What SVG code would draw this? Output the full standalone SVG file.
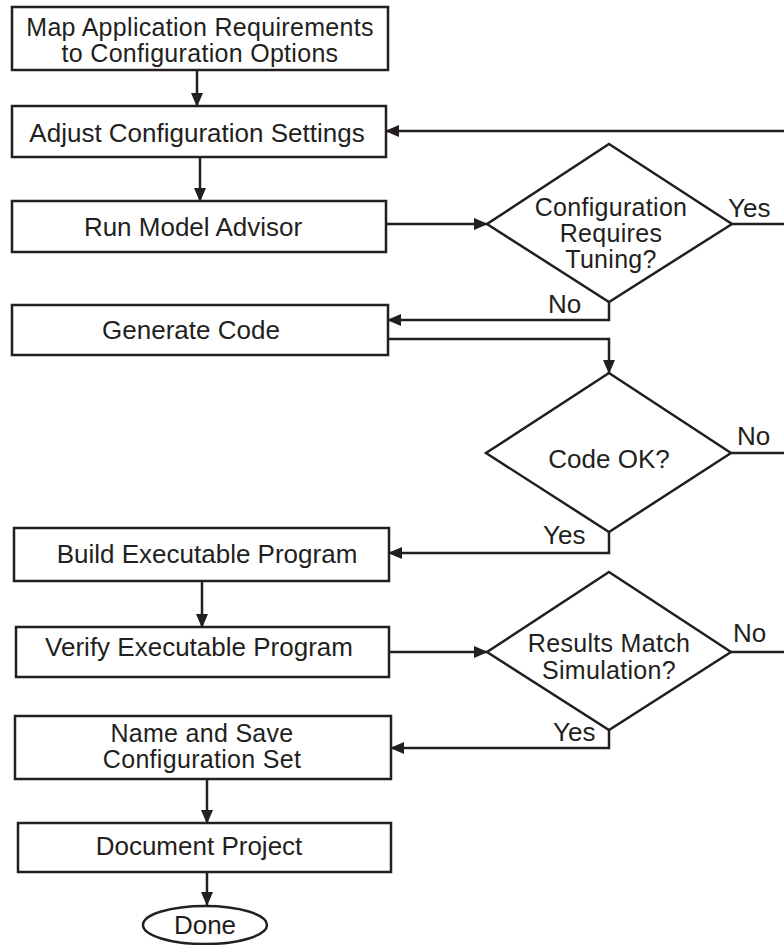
<svg xmlns="http://www.w3.org/2000/svg" width="784" height="945" viewBox="0 0 784 945">
<style>
.box{fill:#fff;stroke:#231f20;stroke-width:2.5}
.t{font-family:"Liberation Sans",Arial,sans-serif;font-size:26px;fill:#231f20;text-anchor:middle}
.t2{font-family:"Liberation Sans",Arial,sans-serif;font-size:25px;letter-spacing:0.3px;fill:#231f20;text-anchor:middle}
.l{font-family:"Liberation Sans",Arial,sans-serif;font-size:26px;fill:#231f20}
.c{fill:none;stroke:#231f20;stroke-width:2.5}
</style>
<defs>
<marker id="ah" markerUnits="userSpaceOnUse" markerWidth="14" markerHeight="14" viewBox="0 0 14 14" refX="13" refY="7" orient="auto">
<path d="M0,1 L14,7 L0,13 Z" fill="#231f20"/>
</marker>
</defs>
<rect width="784" height="945" fill="#fff"/>
<g id="connectors">
<path class="c" d="M197,70 V106" marker-end="url(#ah)"/>
<path class="c" d="M200,157 V201" marker-end="url(#ah)"/>
<path class="c" d="M386,224 H487" marker-end="url(#ah)"/>
<path class="c" d="M732,224 H784"/>
<path class="c" d="M784,131 H386" marker-end="url(#ah)"/>
<path class="c" d="M609,302 V320 H388" marker-end="url(#ah)"/>
<path class="c" d="M388,339 H609 V373" marker-end="url(#ah)"/>
<path class="c" d="M731,453 H784"/>
<path class="c" d="M609,532 V553 H389" marker-end="url(#ah)"/>
<path class="c" d="M202,581 V627" marker-end="url(#ah)"/>
<path class="c" d="M389,652 H487" marker-end="url(#ah)"/>
<path class="c" d="M731,652 H784"/>
<path class="c" d="M609,730 V748 H391" marker-end="url(#ah)"/>
<path class="c" d="M207,779 V823" marker-end="url(#ah)"/>
<path class="c" d="M207,872 V905" marker-end="url(#ah)"/>
<text class="l" x="728" y="217">Yes</text>
<text class="l" x="548" y="313">No</text>
<text class="l" x="737" y="445">No</text>
<text class="l" x="543" y="544">Yes</text>
<text class="l" x="733" y="642">No</text>
<text class="l" x="553" y="741">Yes</text>
</g>
<g id="map">
<rect class="box" x="12" y="7" width="376" height="63"/>
<text class="t2" x="200" y="36">Map Application Requirements</text>
<text class="t2" x="200" y="62">to Configuration Options</text>
</g>
<g id="adjust">
<rect class="box" x="12" y="106" width="374" height="51"/>
<text class="t" x="197" y="142">Adjust Configuration Settings</text>
</g>
<g id="advisor">
<rect class="box" x="12" y="201" width="374" height="51"/>
<text class="t" x="193" y="236">Run Model Advisor</text>
</g>
<g id="tuning">
<polygon class="box" points="609,144 732,224 609,302 487,224"/>
<text class="t2" x="611" y="216">Configuration</text>
<text class="t2" x="611" y="242">Requires</text>
<text class="t2" x="611" y="268">Tuning?</text>
</g>
<g id="generate">
<rect class="box" x="12" y="305" width="376" height="50"/>
<text class="t" x="191" y="339">Generate Code</text>
</g>
<g id="codeok">
<polygon class="box" points="609,373 731,453 609,532 486,453"/>
<text class="t" x="609" y="468">Code OK?</text>
</g>
<g id="build">
<rect class="box" x="14" y="528" width="375" height="53"/>
<text class="t" x="207" y="563">Build Executable Program</text>
</g>
<g id="verify">
<rect class="box" x="16" y="627" width="373" height="50"/>
<text class="t" x="199" y="656">Verify Executable Program</text>
</g>
<g id="results">
<polygon class="box" points="609,572 731,652 609,730 487,652"/>
<text class="t2" x="609" y="652">Results Match</text>
<text class="t2" x="609" y="679">Simulation?</text>
</g>
<g id="namesave">
<rect class="box" x="15" y="716" width="376" height="63"/>
<text class="t2" x="202" y="742">Name and Save</text>
<text class="t2" x="202" y="768">Configuration Set</text>
</g>
<g id="document">
<rect class="box" x="18" y="823" width="373" height="49"/>
<text class="t" x="199" y="855">Document Project</text>
</g>
<g id="done">
<ellipse class="box" cx="205" cy="925" rx="62" ry="19"/>
<text class="t" x="205" y="934">Done</text>
</g>
</svg>
